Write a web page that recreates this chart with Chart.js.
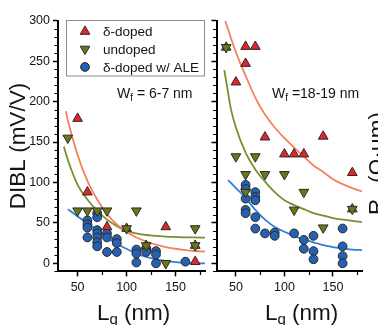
<!DOCTYPE html>
<html><head><meta charset="utf-8">
<script src="https://cdn.jsdelivr.net/npm/chart.js@4"></script>
<style>
html,body{margin:0;padding:0;background:#fff;width:378px;height:325px;overflow:hidden}
canvas{position:absolute;left:0;top:0}
</style></head><body>
<canvas id="cl" width="378" height="325"></canvas>
<canvas id="cr" width="378" height="325"></canvas>
<script>
// ---------- axes ----------
const lgTickValues = [50, 75, 100, 125, 150, 175];
const lgTickLabels = [50, 100, 150];
const diblTickValues = [-10,0,10,20,30,40,50,60,70,80,90,100,110,120,130,140,150,160,170,180,190,200,210,220,230,240,250,260,270,280,290,300];
const diblTickLabels = [0, 50, 100, 150, 200, 250, 300];
const seriesNames = ['δ-doped', 'undoped', 'δ-doped w/ ALE'];

// ---------- left panel: Wf = 6-7 nm ----------
const leftDeltaL = [50, 60, 80, 140, 170];
const leftDeltaV = [179, 88, 45, 45, 2];
const leftUndopedL = [40, 50, 60, 70, 80, 100, 110, 120, 140, 170, 170];
const leftUndopedV = [155, 65, 65, 65, 65, 43, 65, 22, 0, 43, 22];
const leftOverlapL = [100, 120, 170];
const leftOverlapV = [43, 22, 22];
const leftAleL = [60,60,60,60, 70,70,70,70,70,70,70, 80,80,80, 90,90,90, 110,110,110, 120,120, 130,130,130, 160];
const leftAleV = [53,48,44,32, 62,57,41,37,32,26,21, 37,32,14, 30,25,14, 17,12,1, 18,14, 15,11,0, 2];
const leftDeltaFitL = [38,40,50,60,70,80,90,100,110,120,130,140,150,160,170,180];
const leftDeltaFitV = [188,177,134,102,79,61,48,39,32,27,23,20,18,16.4,15.2,14.4];
const leftUndopedFitL = [36,40,50,60,70,80,90,100,110,120,130,140,150,160,170,180];
const leftUndopedFitV = [144,128,97,79,65,54,46,40,37,35,34,33,32.5,32,32,31.8];
const leftAleFitL = [40,50,60,70,80,90,100,110,120,130,140,150,160,170,180];
const leftAleFitV = [67,58,50,41,32,24,18,12,8,5,3,1.5,0.5,0,0];

// ---------- right panel: Wf = 18-19 nm ----------
const rightDeltaL = [50, 60, 60, 70, 80, 100, 110, 120, 140, 170];
const rightDeltaV = [224, 247, 268, 268, 156, 135, 135, 135, 157, 112];
const rightUndopedL = [40, 50, 60, 70, 80, 100, 60, 120, 110, 140, 170];
const rightUndopedV = [267, 132, 110, 132, 110, 110, 88, 88, 66, 44, 67];
const rightOverlapL = [40, 170];
const rightOverlapV = [267, 67];
const rightAleL = [60,60,60,60,60, 70,70,70,70,70, 80, 90,90, 110, 120,120, 130,130,130, 160,160,160,160];
const rightAleV = [97,92,80,66,62, 88,82,78,57,43, 37, 38,34, 37, 29,18, 34,15,5, 43,21,9,0];
const rightDeltaFitL = [39,50,60,70,80,90,100,110,120,130,140,150,160,170,180];
const rightDeltaFitV = [300,261,232,205,184,168,155,143,132,121,113,104,98,93,89];
const rightUndopedFitL = [38,40,45,50,60,70,80,90,100,110,120,130,140,150,160,170,180];
const rightUndopedFitV = [239,225,190,168,137,116,101,88,78,72,67,62,59,56,54,52.5,51];
const rightAleFitL = [42,50,60,70,80,90,100,110,120,130,140,150,160,170,180];
const rightAleFitV = [103,93,81,66,54,45,39,34,29.5,26,22.5,20,18.5,17,16.4];

// ---------- styles ----------
const FONT = '"Liberation Sans", Arial, Helvetica, sans-serif';
const RED = '#e3242b', OLIVE = '#6b7816', BLUE = '#2560b2', EDGE = '#2a2a2a';
const RED_LINE = '#f5805c', OLIVE_LINE = '#7c8f2c', BLUE_LINE = '#2f7fda';
const TXT = '#141414';
const TRI_R = 5.6, CIR_R = 4.4;

function pts(xs, ys) { return xs.map((x, i) => ({ x: x, y: ys[i] })); }
function markers(label, xs, ys, color, style, rot, r) {
  return { label, data: pts(xs, ys), showLine: false,
    pointStyle: style, pointRotation: rot, pointRadius: r, pointHoverRadius: r,
    pointBackgroundColor: color, pointBorderColor: EDGE, pointBorderWidth: 1,
    backgroundColor: color, borderColor: EDGE, order: 0 };
}
function fit(label, xs, ys, color) {
  return { label, data: pts(xs, ys), showLine: true, borderColor: color, borderWidth: 1.8,
    pointRadius: 0, pointHoverRadius: 0, fill: false, cubicInterpolationMode: 'monotone', order: 1 };
}

function makeScales(yWidth, yLabels) {
  const gridX = { drawOnChartArea: false, drawTicks: true, tickLength: 5, tickWidth: 1.5,
    tickColor: c => (c.tick && lgTickLabels.includes(c.tick.value)) ? '#000' : 'rgba(0,0,0,0)' };
  const gridY = { drawOnChartArea: false, drawTicks: true, tickLength: 5, tickWidth: 1.5,
    tickColor: c => (c.tick && diblTickLabels.includes(c.tick.value)) ? '#000' : 'rgba(0,0,0,0)' };
  return {
    x: { type: 'linear', min: 30, max: 180,
      afterBuildTicks: s => { s.ticks = lgTickValues.map(v => ({ value: v })); },
      afterFit: s => { s.height = 325 - 271.4; },
      grid: gridX, border: { display: true, color: '#000', width: 2 },
      ticks: { autoSkip: false, maxRotation: 0, minRotation: 0, padding: 4, color: TXT,
        font: { family: FONT, size: 12.5 },
        callback: v => lgTickLabels.includes(v) ? String(v) : '' } },
    y: { type: 'linear', min: -10, max: 300,
      afterBuildTicks: s => { s.ticks = diblTickValues.map(v => ({ value: v })); },
      afterFit: s => { s.width = yWidth; },
      grid: gridY, border: { display: true, color: '#000', width: 2 },
      ticks: { autoSkip: false, padding: 3, color: TXT, font: { family: FONT, size: 12.5 },
        callback: v => (yLabels && diblTickLabels.includes(v)) ? String(v) : '' } }
  };
}

function minorTicks(chart) {
  const ctx = chart.ctx, a = chart.chartArea, xs = chart.scales.x, ys = chart.scales.y;
  ctx.save(); ctx.strokeStyle = '#000'; ctx.lineWidth = 1.2;
  ctx.beginPath();
  diblTickValues.filter(v => !diblTickLabels.includes(v)).forEach(v => {
    const p = Math.round(ys.getPixelForValue(v)) + 0.5;
    ctx.moveTo(a.left - 3.5, p); ctx.lineTo(a.left, p);
  });
  lgTickValues.filter(v => !lgTickLabels.includes(v)).forEach(v => {
    const p = Math.round(xs.getPixelForValue(v)) + 0.5;
    ctx.moveTo(p, a.bottom); ctx.lineTo(p, a.bottom + 3.5);
  });
  ctx.stroke(); ctx.restore();
}

// draw a run of text pieces {t, size, dy}
function runText(ctx, x, y, parts) {
  let cx = x;
  parts.forEach(p => {
    ctx.font = p.size + 'px ' + FONT;
    ctx.fillText(p.t, cx, y + (p.dy || 0));
    cx += ctx.measureText(p.t).width;
  });
}

function marker(ctx, style, rot, r, color, x, y) {
  ctx.save();
  ctx.fillStyle = color; ctx.strokeStyle = EDGE; ctx.lineWidth = 1;
  if (window.Chart && Chart.helpers && Chart.helpers.drawPoint) {
    Chart.helpers.drawPoint(ctx, { pointStyle: style, rotation: rot, radius: r, borderWidth: 1 }, x, y);
  } else {
    ctx.beginPath();
    if (style === 'circle') ctx.arc(x, y, r, 0, Math.PI * 2);
    else { const s = rot ? -1 : 1; ctx.moveTo(x, y - s * r); ctx.lineTo(x + r * 0.866, y + s * r / 2); ctx.lineTo(x - r * 0.866, y + s * r / 2); ctx.closePath(); }
    ctx.fill(); ctx.stroke();
  }
  ctx.restore();
}

const leftDecor = {
  id: 'leftDecor',
  afterDraw(chart) {
    const ctx = chart.ctx;
    minorTicks(chart);
    ctx.save();
    // legend box
    ctx.fillStyle = '#fff'; ctx.fillRect(66.5, 20.5, 138, 55.5);
    ctx.strokeStyle = '#8c8c8c'; ctx.lineWidth = 1; ctx.strokeRect(66.5, 20.5, 138, 55.5);
    marker(ctx, 'triangle', 0, TRI_R, RED, 85, 31.5);
    marker(ctx, 'triangle', 180, TRI_R, OLIVE, 85, 49);
    marker(ctx, 'circle', 0, CIR_R, BLUE, 85, 67);
    ctx.fillStyle = TXT; ctx.textBaseline = 'alphabetic'; ctx.textAlign = 'left';
    ctx.font = '13.5px ' + FONT;
    ctx.fillText(seriesNames[0], 103, 36);
    ctx.fillText(seriesNames[1], 103, 53.5);
    ctx.fillText(seriesNames[2], 103, 71.5);
    // annotation
    runText(ctx, 117, 98, [{ t: 'W', size: 14 }, { t: 'f', size: 10, dy: 3 }, { t: ' = 6-7 nm', size: 14 }]);
    // x title
    runText(ctx, 97, 319.5, [{ t: 'L', size: 22.5 }, { t: 'g', size: 15, dy: 4 }, { t: ' (nm)', size: 22.5 }]);
    // y title
    ctx.translate(24.5, 146); ctx.rotate(-Math.PI / 2);
    ctx.textAlign = 'center'; ctx.font = '22.5px ' + FONT;
    ctx.fillText('DIBL (mV/V)', 0, 0);
    ctx.restore();
  }
};

const rightDecor = {
  id: 'rightDecor',
  afterDraw(chart) {
    const ctx = chart.ctx;
    minorTicks(chart);
    ctx.save();
    ctx.fillStyle = TXT; ctx.textBaseline = 'alphabetic'; ctx.textAlign = 'left';
    runText(ctx, 272, 97.5, [{ t: 'W', size: 14 }, { t: 'f', size: 10, dy: 3 }, { t: ' =18-19 nm', size: 14 }]);
    runText(ctx, 265, 319.5, [{ t: 'L', size: 22.5 }, { t: 'g', size: 15, dy: 4 }, { t: ' (nm)', size: 22.5 }]);
    // right-hand axis title (cut off by the picture edge)
    ctx.translate(384, 215); ctx.rotate(-Math.PI / 2);
    runText(ctx, 0, 0, [{ t: 'R', size: 22.5 }, { t: 'on', size: 12, dy: 4 }]);
    ctx.font = '22.5px ' + FONT;
    ctx.fillText('(Ω·μm)', 32, 0);
    ctx.restore();
  }
};

function baseOptions(pad, yWidth, yLabels) {
  return {
    responsive: false, animation: false, devicePixelRatio: 1, events: [],
    layout: { padding: pad },
    plugins: { legend: { display: false }, tooltip: { enabled: false }, title: { display: false } },
    scales: makeScales(yWidth, yLabels)
  };
}

new Chart(document.getElementById('cl'), {
  type: 'scatter',
  data: { datasets: [
    markers(seriesNames[0], leftDeltaL, leftDeltaV, RED, 'triangle', 0, TRI_R),
    markers(seriesNames[1], leftUndopedL, leftUndopedV, OLIVE, 'triangle', 180, TRI_R),
    markers(seriesNames[1] + ' (overlap)', leftOverlapL, leftOverlapV, OLIVE, 'triangle', 0, TRI_R),
    markers(seriesNames[2], leftAleL, leftAleV, BLUE, 'circle', 0, CIR_R),
    fit('δ-doped fit', leftDeltaFitL, leftDeltaFitV, RED_LINE),
    fit('undoped fit', leftUndopedFitL, leftUndopedFitV, OLIVE_LINE),
    fit('ALE fit', leftAleFitL, leftAleFitV, BLUE_LINE)
  ] },
  options: baseOptions({ left: 0, right: 378 - 205, top: 20.7, bottom: 0 }, 58, true),
  plugins: [leftDecor]
});

new Chart(document.getElementById('cr'), {
  type: 'scatter',
  data: { datasets: [
    markers(seriesNames[0], rightDeltaL, rightDeltaV, RED, 'triangle', 0, TRI_R),
    markers(seriesNames[1], rightUndopedL, rightUndopedV, OLIVE, 'triangle', 180, TRI_R),
    markers(seriesNames[1] + ' (overlap)', rightOverlapL, rightOverlapV, OLIVE, 'triangle', 0, TRI_R),
    markers(seriesNames[2], rightAleL, rightAleV, BLUE, 'circle', 0, CIR_R),
    fit('δ-doped fit', rightDeltaFitL, rightDeltaFitV, RED_LINE),
    fit('undoped fit', rightUndopedFitL, rightUndopedFitV, OLIVE_LINE),
    fit('ALE fit', rightAleFitL, rightAleFitV, BLUE_LINE)
  ] },
  options: baseOptions({ left: 206.5, right: 16, top: 20.7, bottom: 0 }, 10, false),
  plugins: [rightDecor]
});
</script>
</body></html>
